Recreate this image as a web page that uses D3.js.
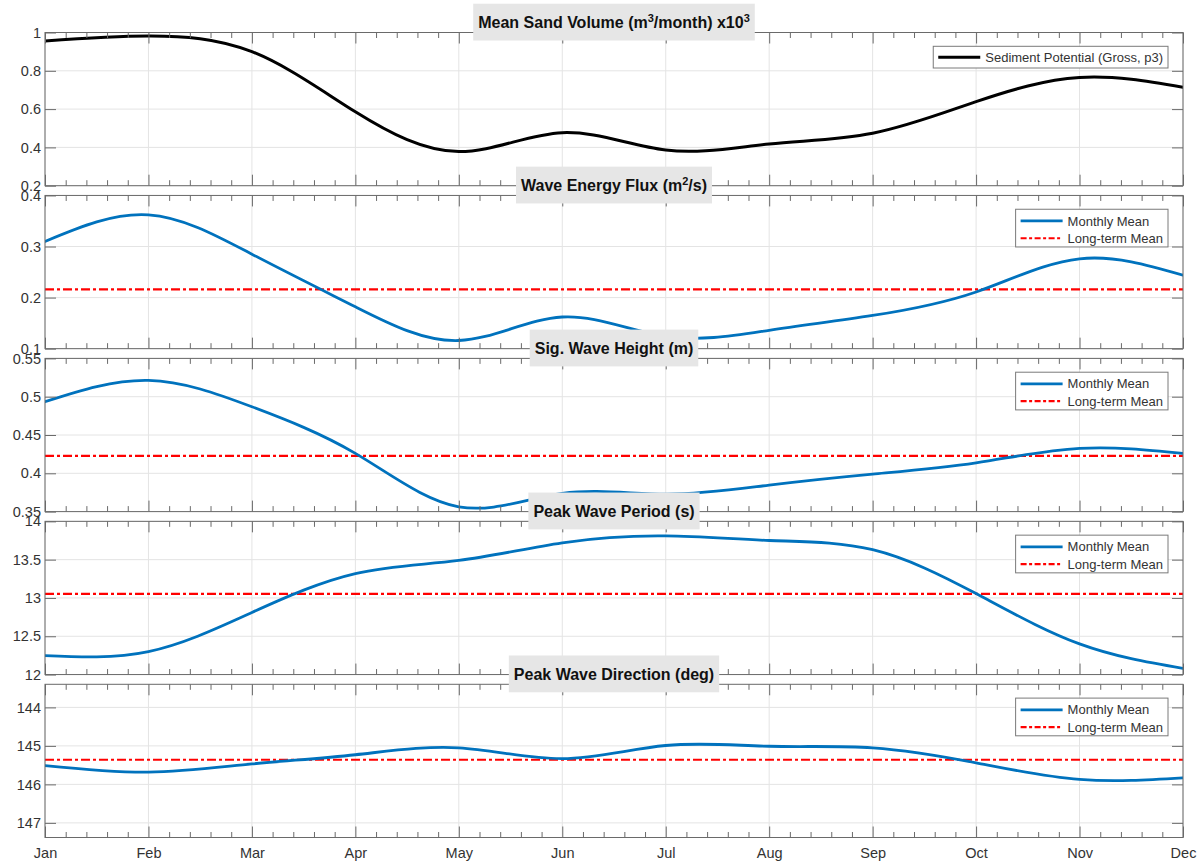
<!DOCTYPE html>
<html>
<head>
<meta charset="utf-8">
<script src="https://cdn.jsdelivr.net/npm/d3@7"></script>
<style>
  body { margin: 0; background: #fff; }
  svg { display: block; }
  text { font-family: "Liberation Sans", Arial, Helvetica, sans-serif; }
</style>
</head>
<body>
<svg id="chart" width="1200" height="862"></svg>
<script>
// ---------------- DATA ----------------
const months = ["Jan","Feb","Mar","Apr","May","Jun","Jul","Aug","Sep","Oct","Nov","Dec"];

const sandVolume    = [0.956, 0.982, 0.900, 0.586, 0.378, 0.477, 0.386, 0.418, 0.474, 0.639, 0.765, 0.714];
const sandTicks     = [0.2, 0.4, 0.6, 0.8, 1];

const energyFlux     = [0.310, 0.362, 0.285, 0.182, 0.116, 0.162, 0.124, 0.136, 0.165, 0.211, 0.276, 0.244];
const energyFluxMean = 0.216;
const energyTicks    = [0.1, 0.2, 0.3, 0.4];

const waveHeight     = [0.4934, 0.5213, 0.4868, 0.4260, 0.3563, 0.3738, 0.3728, 0.3846, 0.3990, 0.4137, 0.4325, 0.4260];
const waveHeightMean = 0.4228;
const heightTicks    = [0.35, 0.4, 0.45, 0.5, 0.55];

const wavePeriod     = [12.248, 12.300, 12.810, 13.318, 13.490, 13.720, 13.810, 13.750, 13.630, 13.057, 12.400, 12.080];
const wavePeriodMean = 13.052;
const periodTicks    = [12, 12.5, 13, 13.5, 14];

const waveDirection     = [145.51, 145.68, 145.47, 145.23, 145.05, 145.33, 144.99, 145.01, 145.05, 145.44, 145.87, 145.83];
const waveDirectionMean = 145.36;
const directionTicks    = [144, 145, 146, 147];

// ---------------- PANELS ----------------
const panels = [
  { title: [["Mean Sand Volume (m"], ["3", true], ["/month) x10"], ["3", true]],
    values: sandVolume, mean: null, domain: [0.2, 1], ticks: sandTicks, reverse: false,
    color: "#000000", width: 3, legend: ["Sediment Potential (Gross, p3)"] },
  { title: [["Wave Energy Flux (m"], ["2", true], ["/s)"]],
    values: energyFlux, mean: energyFluxMean, domain: [0.1, 0.4], ticks: energyTicks, reverse: false,
    color: "#0072BD", width: 2.8, legend: ["Monthly Mean", "Long-term Mean"] },
  { title: [["Sig. Wave Height (m)"]],
    values: waveHeight, mean: waveHeightMean, domain: [0.35, 0.55], ticks: heightTicks, reverse: false,
    color: "#0072BD", width: 2.8, legend: ["Monthly Mean", "Long-term Mean"] },
  { title: [["Peak Wave Period (s)"]],
    values: wavePeriod, mean: wavePeriodMean, domain: [12, 14], ticks: periodTicks, reverse: false,
    color: "#0072BD", width: 2.8, legend: ["Monthly Mean", "Long-term Mean"] },
  { title: [["Peak Wave Direction (deg)"]],
    values: waveDirection, mean: waveDirectionMean, domain: [143.4, 147.38], ticks: directionTicks, reverse: true,
    color: "#0072BD", width: 2.8, legend: ["Monthly Mean", "Long-term Mean"] }
];

// ---------------- LAYOUT ----------------
const left = 45, right = 1183, top0 = 32.5, ph = 153.2, step = 162.95;
const axisColor = "#6a6a6a", gridColor = "#e4e4e4", labelColor = "#333333";
const dashPattern = "9,3,3,3";
const svg = d3.select("#chart");
const x = d3.scaleLinear().domain([0, months.length - 1]).range([left, right]);
const minorX = d3.range(0, months.length - 1 + 1e-9, 0.2).filter(v => Math.abs(v - Math.round(v)) > 1e-6);

const titleLayer = [];

panels.forEach((p, i) => {
  const t = top0 + i * step, b = t + ph;
  const y = d3.scaleLinear().domain(p.domain).range(p.reverse ? [t, b] : [b, t]);
  const g = svg.append("g");

  g.append("rect").attr("x", left).attr("y", t).attr("width", right - left).attr("height", ph).attr("fill", "#fff");

  // grid
  g.append("g").selectAll("line").data(d3.range(months.length)).join("line")
    .attr("x1", d => x(d)).attr("x2", d => x(d)).attr("y1", t).attr("y2", b)
    .attr("stroke", gridColor).attr("stroke-width", 1);
  g.append("g").selectAll("line").data(p.ticks).join("line")
    .attr("x1", left).attr("x2", right).attr("y1", d => y(d)).attr("y2", d => y(d))
    .attr("stroke", gridColor).attr("stroke-width", 1);

  const clipId = "clip" + i;
  svg.append("clipPath").attr("id", clipId).append("rect")
    .attr("x", left).attr("y", t).attr("width", right - left).attr("height", ph);
  const plot = g.append("g").attr("clip-path", `url(#${clipId})`);

  if (p.mean != null) {
    plot.append("line")
      .attr("x1", x(0)).attr("x2", x(months.length - 1))
      .attr("y1", y(p.mean)).attr("y2", y(p.mean))
      .attr("stroke", "#FF0000").attr("stroke-width", 2.2)
      .attr("stroke-dasharray", dashPattern);
  }

  const line = d3.line().x((d, k) => x(k)).y(d => y(d)).curve(d3.curveNatural);
  plot.append("path").datum(p.values).attr("d", line)
    .attr("fill", "none").attr("stroke", p.color).attr("stroke-width", p.width)
    .attr("stroke-linejoin", "round").attr("stroke-linecap", "round");

  const styleAxis = sel => {
    sel.attr("font-size", 14.5).attr("font-family", null);
    sel.select(".domain").remove();
    sel.selectAll(".tick line").attr("stroke", axisColor);
    sel.selectAll(".tick text").attr("fill", labelColor);
  };

  g.append("g").attr("transform", `translate(${left},0)`)
    .call(d3.axisLeft(y).tickValues(p.ticks).tickSize(-11).tickPadding(4).tickFormat(d3.format("~g")))
    .call(styleAxis);
  g.append("g").attr("transform", `translate(${right},0)`)
    .call(d3.axisRight(y).tickValues(p.ticks).tickSize(-11).tickFormat(""))
    .call(styleAxis);

  const last = i === panels.length - 1;
  g.append("g").attr("transform", `translate(0,${b})`)
    .call(d3.axisBottom(x).tickValues(d3.range(months.length)).tickSize(-11).tickPadding(10.5)
      .tickFormat(k => last ? months[k] : ""))
    .call(styleAxis);
  g.append("g").attr("transform", `translate(0,${b})`)
    .call(d3.axisBottom(x).tickValues(minorX).tickSize(-5.5).tickFormat(""))
    .call(styleAxis);
  g.append("g").attr("transform", `translate(0,${t})`)
    .call(d3.axisTop(x).tickValues(d3.range(months.length)).tickSize(-11).tickFormat(""))
    .call(styleAxis);
  g.append("g").attr("transform", `translate(0,${t})`)
    .call(d3.axisTop(x).tickValues(minorX).tickSize(-5.5).tickFormat(""))
    .call(styleAxis);
  // remove empty label nodes
  g.selectAll(".tick text").filter(function () { return this.textContent === ""; }).remove();

  g.append("rect").attr("x", left).attr("y", t).attr("width", right - left).attr("height", ph)
    .attr("fill", "none").attr("stroke", axisColor).attr("stroke-width", 1);

  // legend
  const lg = g.append("g");
  const lbox = lg.append("rect").attr("fill", "#fff").attr("stroke", "#7a7a7a").attr("stroke-width", 1);
  const rows = p.legend.length;
  const rowY = rows === 1 ? [11] : [11.7, 29];
  let maxLen = 0;
  p.legend.forEach((lab, r) => {
    const isMean = r === 1;
    lg.append("line").attr("x1", 5).attr("x2", 47).attr("y1", rowY[r]).attr("y2", rowY[r])
      .attr("stroke", isMean ? "#FF0000" : p.color)
      .attr("stroke-width", isMean ? 2.2 : p.width)
      .attr("stroke-dasharray", isMean ? "6,2.5,3,2.5" : null);
    const tx = lg.append("text").attr("x", 52).attr("y", rowY[r]).attr("dy", "0.35em")
      .attr("font-size", 13).attr("fill", labelColor).text(lab);
    maxLen = Math.max(maxLen, tx.node().getComputedTextLength());
  });
  const lw = 52 + maxLen + 5, lh = rows === 1 ? 21.7 : 37.7;
  lbox.attr("x", 0).attr("y", 0).attr("width", lw).attr("height", lh);
  lg.attr("transform", `translate(${right - 15 - lw},${t + 13.8})`);

  titleLayer.push({ p, t });
});

// titles on top
titleLayer.forEach(({ p, t }) => {
  const tg = svg.append("g");
  const rect = tg.append("rect").attr("fill", "#e6e6e6");
  const baseline = t - 4.8;
  const txt = tg.append("text").attr("x", (left + right) / 2).attr("y", baseline)
    .attr("text-anchor", "middle").attr("font-size", 16).attr("font-weight", "bold").attr("fill", "#111");
  let shift = 0;
  p.title.forEach(([s, sup]) => {
    const ts = txt.append("tspan").text(s);
    if (sup) {
      ts.attr("dy", -6 - shift).attr("font-size", 11);
      shift = -6;
    } else {
      if (shift !== 0) ts.attr("dy", -shift);
      shift = 0;
    }
  });
  const bb = txt.node().getBBox();
  const top = Math.max(baseline - 24, 2);
  rect.attr("x", bb.x - 5).attr("width", bb.width + 10).attr("y", top).attr("height", t + 8 - top);
});
</script>
</body>
</html>
